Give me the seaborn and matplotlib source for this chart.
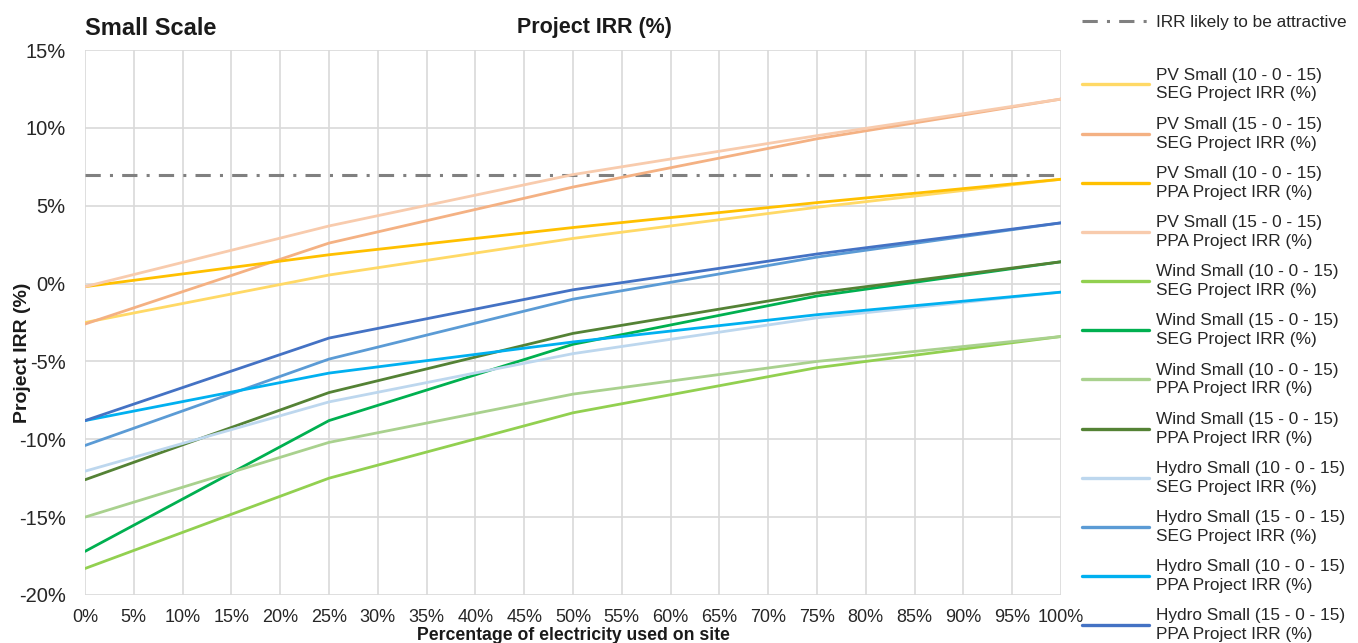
import matplotlib
matplotlib.use("Agg")
import matplotlib.pyplot as plt
from matplotlib.ticker import FuncFormatter, MultipleLocator
from matplotlib.lines import Line2D
import numpy as np
import pandas as pd
import seaborn as sns

# Share of electricity used on site (%)
usage_pct = [0, 25, 50, 75, 100]

# Project IRR (%) per scenario
pv_10_seg = [-2.5, 0.55, 2.9, 4.9, 6.7]
pv_15_seg = [-2.6, 2.6, 6.2, 9.3, 11.85]
pv_10_ppa = [-0.2, 1.85, 3.6, 5.2, 6.7]
pv_15_ppa = [-0.2, 3.7, 7.0, 9.5, 11.85]
wind_10_seg = [-18.3, -12.5, -8.3, -5.4, -3.4]
wind_15_seg = [-17.2, -8.8, -3.9, -0.8, 1.4]
wind_10_ppa = [-15.0, -10.2, -7.1, -5.0, -3.4]
wind_15_ppa = [-12.6, -7.0, -3.2, -0.6, 1.4]
hydro_10_seg = [-12.05, -7.6, -4.5, -2.2, -0.55]
hydro_15_seg = [-10.4, -4.85, -1.0, 1.7, 3.9]
hydro_10_ppa = [-8.8, -5.75, -3.75, -2.0, -0.55]
hydro_15_ppa = [-8.8, -3.5, -0.4, 1.9, 3.9]

attractive_irr = 7.0

series_names = [
    "PV Small (10 - 0 - 15)\nSEG Project IRR (%)",
    "PV Small (15 - 0 - 15)\nSEG Project IRR (%)",
    "PV Small (10 - 0 - 15)\nPPA Project IRR (%)",
    "PV Small (15 - 0 - 15)\nPPA Project IRR (%)",
    "Wind Small (10 - 0 - 15)\nSEG Project IRR (%)",
    "Wind Small (15 - 0 - 15)\nSEG Project IRR (%)",
    "Wind Small (10 - 0 - 15)\nPPA Project IRR (%)",
    "Wind Small (15 - 0 - 15)\nPPA Project IRR (%)",
    "Hydro Small (10 - 0 - 15)\nSEG Project IRR (%)",
    "Hydro Small (15 - 0 - 15)\nSEG Project IRR (%)",
    "Hydro Small (10 - 0 - 15)\nPPA Project IRR (%)",
    "Hydro Small (15 - 0 - 15)\nPPA Project IRR (%)",
]
series_values = [
    pv_10_seg, pv_15_seg, pv_10_ppa, pv_15_ppa,
    wind_10_seg, wind_15_seg, wind_10_ppa, wind_15_ppa,
    hydro_10_seg, hydro_15_seg, hydro_10_ppa, hydro_15_ppa,
]
series_colors = [
    "#FFD966", "#F4B183", "#FFC000", "#F8CBAD",
    "#92D050", "#00B050", "#A9D18E", "#548235",
    "#BDD7EE", "#5B9BD5", "#00B0F0", "#4472C4",
]

rows = []
for name, vals in zip(series_names, series_values):
    for x, y in zip(usage_pct, vals):
        rows.append({"usage": x, "irr": y, "series": name})
df = pd.DataFrame(rows)

sns.set_theme(style="whitegrid")
plt.rcParams["font.family"] = ["Liberation Sans", "DejaVu Sans"]

fig = plt.figure(figsize=(13.58, 6.43), dpi=100)
ax = fig.add_axes([0.0626, 0.0747, 0.7187, 0.8475])

dash_dot = (0, (5, 3, 1, 3))
ax.axhline(attractive_irr, color="#808080", lw=2.2, linestyle=dash_dot,
           zorder=2)

sns.lineplot(data=df, x="usage", y="irr", hue="series",
             hue_order=series_names,
             palette=dict(zip(series_names, series_colors)),
             linewidth=2.0, ax=ax, legend=False, zorder=3)

ax.set_xlim(0, 100)
ax.set_ylim(-20, 15)
ax.xaxis.set_major_locator(MultipleLocator(5))
ax.yaxis.set_major_locator(MultipleLocator(5))
ax.xaxis.set_major_formatter(FuncFormatter(lambda v, p: f"{v:.0f}%"))
ax.yaxis.set_major_formatter(FuncFormatter(lambda v, p: f"{v:.0f}%"))
ax.tick_params(axis="x", labelsize=13, colors="#262626", pad=4)
ax.tick_params(axis="y", labelsize=14.5, colors="#262626", pad=8)
ax.grid(True, color="#D9D9D9", linewidth=1.2)
for s in ax.spines.values():
    s.set_visible(False)

ax.set_xlabel("Percentage of electricity used on site", fontsize=12.7,
              fontweight="bold", color="#1a1a1a")
ax.xaxis.set_label_coords(0.5, -0.058)
ax.set_ylabel("Project IRR (%)", fontsize=14, fontweight="bold",
              color="#1a1a1a")
ax.yaxis.set_label_coords(-0.055, 0.445)

fig.text(0.0626, 0.956, "Small Scale", fontsize=17, fontweight="bold",
         ha="left", va="center", color="#1a1a1a")
fig.text(0.438, 0.958, "Project IRR (%)", fontsize=15.5, fontweight="bold",
         ha="center", va="center", color="#1a1a1a")

# Threshold legend entry at the top of the panel
thr_handle = [Line2D([0], [0], color="#808080", lw=2.2, linestyle=dash_dot)]
leg1 = fig.legend(thr_handle, ["IRR likely to be attractive"],
                  loc="upper left", bbox_to_anchor=(0.797, 0.976),
                  frameon=False, fontsize=12.4, handlelength=3.9,
                  handletextpad=0.4, borderaxespad=0, borderpad=0)

handles = [Line2D([0], [0], color=c, lw=2.4) for c in series_colors]
leg2 = fig.legend(handles, series_names, loc="upper left",
                  bbox_to_anchor=(0.797, 0.895), frameon=False,
                  fontsize=12.4, handlelength=3.9, handletextpad=0.4,
                  labelspacing=0.89, borderaxespad=0, borderpad=0)
for t in leg1.get_texts() + leg2.get_texts():
    t.set_color("#262626")
for t in leg2.get_texts():
    t.set_linespacing(1.32)

fig.savefig("out.png", dpi=100)
